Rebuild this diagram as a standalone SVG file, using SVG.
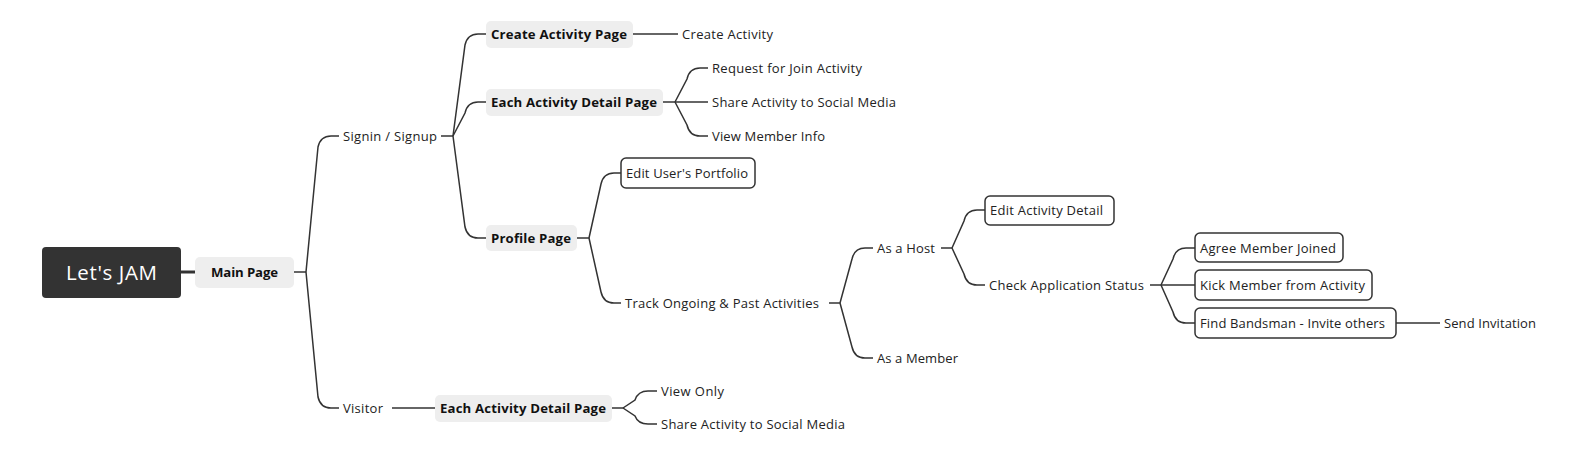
<svg xmlns="http://www.w3.org/2000/svg" width="1589" height="464" viewBox="0 0 1589 464">
<style>
.t{font-family:"Open Sans","Liberation Sans",sans-serif;font-size:13px;fill:#222}
.b{font-family:"Open Sans","Liberation Sans",sans-serif;font-size:13.2px;font-weight:bold;fill:#111}
.r{font-family:"Open Sans","Liberation Sans",sans-serif;font-size:20.5px;fill:#fff}
.g{fill:#eeeeee;stroke:none}
.w{fill:#fff;stroke:#333;stroke-width:1.5}
.c path{fill:none;stroke:#333;stroke-width:1.5}
</style>
<rect width="1589" height="464" fill="#fff"/>
<g class="c" id="connectors">
<path d="M181 272 L195 272" style="stroke-width:3"/>
<path d="M294 272 L306 272"/>
<path d="M306 272 L318 147 Q320.5 136 331 136 L339 136"/>
<path d="M306 272 L318 397 Q320.5 408 331 408 L339 408"/>
<path d="M441 136 L453 136"/>
<path d="M453 136 L465 45 Q467.5 34 478 34 L486 34"/>
<path d="M453 136 L465 113 Q467.5 102 478 102 L486 102"/>
<path d="M453 136 L465 227 Q467.5 238 478 238 L486 238"/>
<path d="M633 34 L678 34"/>
<path d="M663 102 L675 102"/>
<path d="M675 102 L687 79 Q689.5 68 700 68 L708 68"/>
<path d="M675 102 L708 102"/>
<path d="M675 102 L687 125 Q689.5 136 700 136 L708 136"/>
<path d="M577 238 L589 238"/>
<path d="M589 238 L601 184 Q603.5 173 614 173 L621 173"/>
<path d="M589 238 L601 292 Q603.5 303 614 303 L621 303"/>
<path d="M829 303 L840 303"/>
<path d="M840 303 L852 259 Q854.5 248 865 248 L873 248"/>
<path d="M840 303 L852 347 Q854.5 358 865 358 L873 358"/>
<path d="M941 248 L952 248"/>
<path d="M952 248 L964 221 Q966.5 210 977 210 L985 210"/>
<path d="M952 248 L964 274 Q966.5 285 977 285 L985 285"/>
<path d="M1150 285 L1161 285"/>
<path d="M1161 285 L1173 259 Q1175.5 248 1186 248 L1195 248"/>
<path d="M1161 285 L1195 285"/>
<path d="M1161 285 L1173 312 Q1175.5 323 1186 323 L1195 323"/>
<path d="M1396 323 L1440 323"/>
<path d="M392 408 L435 408"/>
<path d="M612 408 L623 408"/>
<path d="M623 408 L635 400 Q638 391 648 391 L657 391"/>
<path d="M623 408 L635 416 Q638 424 648 424 L657 424"/>
</g>
<g id="root"><rect x="42" y="247" width="139" height="51" rx="4" fill="#333"/><text class="r" x="66" y="279.5" textLength="91" lengthAdjust="spacing">Let's JAM</text></g>
<g id="main"><rect class="g" x="195" y="257" width="99" height="31" rx="5"/><text class="b" x="211" y="277" textLength="67" lengthAdjust="spacing">Main Page</text></g>
<g id="signin"><text class="t" x="343" y="140.5" textLength="94" lengthAdjust="spacing">Signin / Signup</text></g>
<g id="createpage"><rect class="g" x="486" y="21" width="147" height="27" rx="5"/><text class="b" x="491" y="39" textLength="136" lengthAdjust="spacing">Create Activity Page</text></g>
<g id="createact"><text class="t" x="682" y="38.5" textLength="91" lengthAdjust="spacing">Create Activity</text></g>
<g id="detailpage"><rect class="g" x="486" y="89" width="177" height="27" rx="5"/><text class="b" x="491" y="107" textLength="166" lengthAdjust="spacing">Each Activity Detail Page</text></g>
<g id="request"><text class="t" x="712" y="72.5" textLength="150" lengthAdjust="spacing">Request for Join Activity</text></g>
<g id="share1"><text class="t" x="712" y="106.5" textLength="184" lengthAdjust="spacing">Share Activity to Social Media</text></g>
<g id="viewmember"><text class="t" x="712" y="140.5" textLength="113" lengthAdjust="spacing">View Member Info</text></g>
<g id="profile"><rect class="g" x="486" y="225" width="91" height="26" rx="5"/><text class="b" x="491" y="243" textLength="80" lengthAdjust="spacing">Profile Page</text></g>
<g id="portfolio"><rect class="w" x="621" y="158" width="134" height="30" rx="5"/><text class="t" x="626" y="177.5" textLength="122" lengthAdjust="spacing">Edit User's Portfolio</text></g>
<g id="track"><text class="t" x="625" y="307.5" textLength="194" lengthAdjust="spacing">Track Ongoing &amp; Past Activities</text></g>
<g id="host"><text class="t" x="877" y="252.5" textLength="58" lengthAdjust="spacing">As a Host</text></g>
<g id="member"><text class="t" x="877" y="362.5" textLength="81" lengthAdjust="spacing">As a Member</text></g>
<g id="editdetail"><rect class="w" x="985" y="196" width="129" height="29" rx="5"/><text class="t" x="990" y="214.5" textLength="113" lengthAdjust="spacing">Edit Activity Detail</text></g>
<g id="checkapp"><text class="t" x="989" y="289.5" textLength="155" lengthAdjust="spacing">Check Application Status</text></g>
<g id="agree"><rect class="w" x="1195" y="233" width="148" height="29" rx="5"/><text class="t" x="1200" y="252.5" textLength="136" lengthAdjust="spacing">Agree Member Joined</text></g>
<g id="kick"><rect class="w" x="1195" y="270" width="177" height="30" rx="5"/><text class="t" x="1200" y="289.5" textLength="165" lengthAdjust="spacing">Kick Member from Activity</text></g>
<g id="find"><rect class="w" x="1195" y="308" width="201" height="30" rx="5"/><text class="t" x="1200" y="327.5" textLength="185" lengthAdjust="spacing">Find Bandsman - Invite others</text></g>
<g id="sendinv"><text class="t" x="1444" y="327.5" textLength="92" lengthAdjust="spacing">Send Invitation</text></g>
<g id="visitor"><text class="t" x="343" y="412.5" textLength="40" lengthAdjust="spacing">Visitor</text></g>
<g id="detailpage2"><rect class="g" x="435" y="395" width="177" height="27" rx="5"/><text class="b" x="440" y="413" textLength="166" lengthAdjust="spacing">Each Activity Detail Page</text></g>
<g id="viewonly"><text class="t" x="661" y="395.5" textLength="63" lengthAdjust="spacing">View Only</text></g>
<g id="share2"><text class="t" x="661" y="428.5" textLength="184" lengthAdjust="spacing">Share Activity to Social Media</text></g>
</svg>
